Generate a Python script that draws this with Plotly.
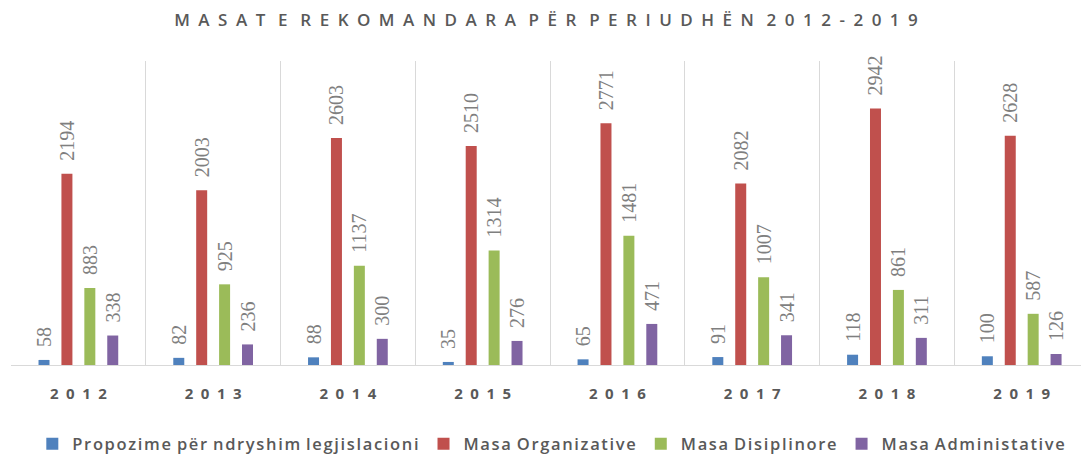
import plotly.graph_objects as go

years = ["2012", "2013", "2014", "2015", "2016", "2017", "2018", "2019"]

series_names = [
    "Propozime për ndryshim legjislacioni",
    "Masa Organizative",
    "Masa Disiplinore",
    "Masa Administative",
]
propozime = [58, 82, 88, 35, 65, 91, 118, 100]
organizative = [2194, 2003, 2603, 2510, 2771, 2082, 2942, 2628]
disiplinore = [883, 925, 1137, 1314, 1481, 1007, 861, 587]
administrative = [338, 236, 300, 276, 471, 341, 311, 126]
colors = ["#4F81BD", "#C0504D", "#9BBB59", "#8064A2"]

title_text = "MASAT E REKOMANDARA PËR PERIUDHËN 2012-2019"


def spaced(s, gap, wordgap):
    words = s.split(" ")
    return wordgap.join(gap.join(list(w)) for w in words)


fig = go.Figure()
for name, vals, col in zip(series_names, [propozime, organizative, disiplinore, administrative], colors):
    fig.add_trace(go.Bar(
        x=years, y=vals,
        name=spaced(name, "\u200a", " \u200a"),
        marker=dict(color=col, line=dict(width=0)),
        text=[str(v) for v in vals],
        texttemplate="\u2002%{text}",
        textposition="outside",
        textangle=-90,
        constraintext="none",
        cliponaxis=False,
        textfont=dict(family="Liberation Sans Narrow", size=20, color="#7F7F7F"),
    ))

fig.update_layout(
    width=1081, height=456,
    margin=dict(l=11, r=0, t=61, b=91, autoexpand=False),
    paper_bgcolor="white", plot_bgcolor="white",
    barmode="group", bargap=0.32, bargroupgap=0.52,
    title=dict(text=spaced(title_text, "\u2002", "\u2002\u2005"), x=0.5, xref="paper", xanchor="center",
               y=0.955, yref="container", yanchor="middle",
               font=dict(family="Open Sans", size=17, color="#595959", weight=600)),
    showlegend=True,
    legend=dict(orientation="h", xref="container", yref="paper",
                x=0.51, xanchor="center", y=-0.26, yanchor="middle",
                font=dict(family="Open Sans", size=16.5, color="#595959", weight=600),
                itemwidth=30, traceorder="normal", tracegroupgap=0),
)
fig.update_xaxes(
    range=[-0.5, 7.44], tickson="boundaries", showgrid=True,
    gridcolor="#D9D9D9", gridwidth=1,
    showline=True, linecolor="#D9D9D9", linewidth=1,
    ticks="", tickmode="array", tickvals=years,
    ticktext=[spaced(y, "\u2002", "") for y in years],
    tickfont=dict(family="Open Sans", size=15, color="#595959", weight="bold"),
    ticklabelstandoff=15,
)
fig.update_yaxes(range=[0, 3486], visible=False, showgrid=False, zeroline=False)

fig.write_html("out.html", config={"displayModeBar": False},
               post_script="document.body.style.margin='0';")
